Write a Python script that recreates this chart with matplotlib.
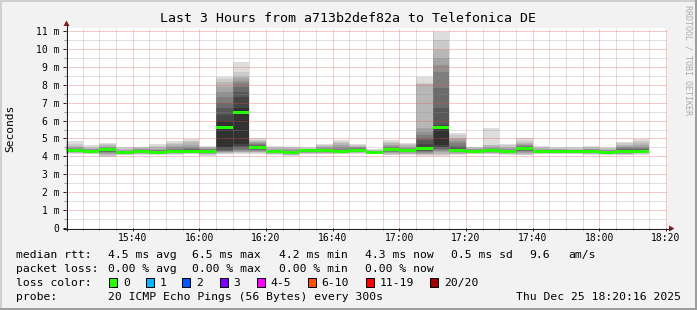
import matplotlib
matplotlib.use("Agg")
import matplotlib.pyplot as plt
from matplotlib.patches import Rectangle, Polygon
import numpy as np

plt.rcParams['font.family'] = ['DejaVu Sans Mono']

# ---------------- data ----------------
title = "Last 3 Hours from a713b2def82a to Telefonica DE"
y_label = "Seconds"
watermark = "RRDTOOL / TOBI OETIKER"

slot_start = ["15:20", "15:25", "15:30", "15:35", "15:40", "15:45", "15:50", "15:55",
              "16:00", "16:05", "16:10", "16:15", "16:20", "16:25", "16:30", "16:35",
              "16:40", "16:45", "16:50", "16:55", "17:00", "17:05", "17:10", "17:15",
              "17:20", "17:25", "17:30", "17:35", "17:40", "17:45", "17:50", "17:55",
              "18:00", "18:05", "18:10"]

median_ms = [4.32, 4.28, 4.36, 4.20, 4.30, 4.21, 4.28, 4.30, 4.30, 5.63,
             6.46, 4.50, 4.25, 4.21, 4.32, 4.32, 4.28, 4.32, 4.23, 4.36,
             4.32, 4.45, 5.64, 4.34, 4.30, 4.32, 4.26, 4.43, 4.25, 4.25,
             4.25, 4.25, 4.23, 4.30, 4.30]

# 20 sorted ping rtts (ms) per 5-minute slot
pings_ms = [
    [4.13, 4.17, 4.20, 4.22, 4.24, 4.26, 4.28, 4.29, 4.30, 4.31, 4.33, 4.35, 4.37, 4.40, 4.43, 4.47, 4.52, 4.58, 4.70, 4.86],
    [4.13, 4.16, 4.19, 4.21, 4.23, 4.24, 4.25, 4.26, 4.27, 4.28, 4.29, 4.30, 4.32, 4.34, 4.36, 4.39, 4.42, 4.47, 4.55, 4.64],
    [3.95, 4.02, 4.08, 4.14, 4.19, 4.23, 4.27, 4.30, 4.32, 4.34, 4.37, 4.39, 4.41, 4.43, 4.46, 4.50, 4.55, 4.62, 4.70, 4.77],
    [4.08, 4.10, 4.12, 4.14, 4.15, 4.16, 4.17, 4.18, 4.19, 4.20, 4.21, 4.22, 4.24, 4.26, 4.28, 4.31, 4.35, 4.40, 4.45, 4.50],
    [4.10, 4.13, 4.16, 4.18, 4.20, 4.22, 4.24, 4.26, 4.28, 4.29, 4.31, 4.32, 4.34, 4.36, 4.38, 4.40, 4.43, 4.46, 4.50, 4.54],
    [4.10, 4.12, 4.14, 4.15, 4.16, 4.17, 4.18, 4.19, 4.20, 4.21, 4.22, 4.24, 4.27, 4.30, 4.34, 4.38, 4.43, 4.50, 4.60, 4.69],
    [4.10, 4.13, 4.16, 4.18, 4.20, 4.22, 4.24, 4.25, 4.26, 4.27, 4.29, 4.31, 4.34, 4.38, 4.43, 4.50, 4.58, 4.67, 4.77, 4.86],
    [4.13, 4.16, 4.19, 4.21, 4.23, 4.25, 4.26, 4.27, 4.28, 4.29, 4.31, 4.33, 4.36, 4.40, 4.46, 4.55, 4.66, 4.78, 4.88, 4.95],
    [4.02, 4.07, 4.12, 4.16, 4.19, 4.22, 4.24, 4.26, 4.28, 4.29, 4.31, 4.33, 4.35, 4.37, 4.40, 4.43, 4.47, 4.51, 4.55, 4.58],
    [4.13, 4.16, 4.19, 4.22, 4.25, 4.28, 4.32, 4.38, 4.45, 4.55, 6.00, 6.30, 6.70, 7.00, 7.30, 7.60, 7.90, 8.15, 8.32, 8.45],
    [4.15, 4.19, 4.22, 4.26, 4.30, 4.36, 4.42, 4.50, 4.60, 4.70, 6.70, 7.30, 7.60, 7.90, 8.08, 8.20, 8.35, 8.45, 8.73, 9.26],
    [4.13, 4.18, 4.22, 4.26, 4.30, 4.34, 4.38, 4.42, 4.46, 4.49, 4.52, 4.56, 4.60, 4.64, 4.68, 4.73, 4.80, 4.87, 4.94, 5.00],
    [4.10, 4.13, 4.15, 4.17, 4.19, 4.20, 4.21, 4.22, 4.23, 4.24, 4.26, 4.28, 4.30, 4.32, 4.35, 4.38, 4.42, 4.47, 4.52, 4.58],
    [4.02, 4.06, 4.09, 4.12, 4.14, 4.16, 4.18, 4.19, 4.20, 4.21, 4.22, 4.24, 4.26, 4.29, 4.32, 4.36, 4.40, 4.45, 4.50, 4.54],
    [4.13, 4.16, 4.19, 4.21, 4.23, 4.25, 4.27, 4.29, 4.30, 4.31, 4.33, 4.34, 4.35, 4.37, 4.38, 4.40, 4.42, 4.44, 4.47, 4.50],
    [4.13, 4.16, 4.19, 4.21, 4.23, 4.25, 4.27, 4.29, 4.30, 4.31, 4.33, 4.35, 4.37, 4.40, 4.43, 4.47, 4.52, 4.57, 4.63, 4.69],
    [4.13, 4.16, 4.19, 4.21, 4.23, 4.24, 4.25, 4.26, 4.27, 4.28, 4.29, 4.31, 4.34, 4.38, 4.44, 4.52, 4.62, 4.72, 4.83, 4.92],
    [4.13, 4.17, 4.20, 4.22, 4.24, 4.26, 4.28, 4.29, 4.30, 4.31, 4.33, 4.35, 4.38, 4.41, 4.45, 4.50, 4.55, 4.60, 4.65, 4.69],
    [4.13, 4.15, 4.17, 4.18, 4.19, 4.20, 4.21, 4.22, 4.22, 4.23, 4.24, 4.25, 4.26, 4.27, 4.28, 4.30, 4.32, 4.34, 4.37, 4.39],
    [4.05, 4.10, 4.14, 4.18, 4.22, 4.25, 4.28, 4.31, 4.33, 4.35, 4.37, 4.40, 4.43, 4.47, 4.52, 4.58, 4.65, 4.73, 4.83, 4.92],
    [4.08, 4.12, 4.16, 4.19, 4.22, 4.24, 4.26, 4.28, 4.30, 4.31, 4.33, 4.35, 4.37, 4.40, 4.44, 4.49, 4.55, 4.62, 4.70, 4.77],
    [4.04, 4.08, 4.12, 4.16, 4.20, 4.24, 4.28, 4.32, 4.36, 4.40, 4.54, 4.70, 4.92, 5.05, 5.20, 5.38, 5.57, 8.03, 8.10, 8.45],
    [4.02, 4.10, 4.16, 4.22, 4.28, 4.34, 4.40, 4.48, 4.55, 4.64, 5.68, 5.75, 6.69, 7.80, 8.73, 9.10, 9.48, 9.94, 10.50, 10.97],
    [4.08, 4.12, 4.16, 4.20, 4.23, 4.26, 4.28, 4.30, 4.32, 4.33, 4.36, 4.42, 4.50, 4.60, 4.72, 4.85, 4.95, 5.05, 5.18, 5.29],
    [4.12, 4.15, 4.18, 4.20, 4.22, 4.24, 4.26, 4.27, 4.28, 4.29, 4.31, 4.32, 4.33, 4.35, 4.37, 4.39, 4.42, 4.45, 4.50, 4.54],
    [4.13, 4.16, 4.19, 4.21, 4.23, 4.25, 4.27, 4.29, 4.30, 4.31, 4.33, 4.35, 4.37, 4.40, 4.43, 4.48, 4.55, 4.62, 4.66, 5.57],
    [4.08, 4.12, 4.15, 4.17, 4.19, 4.21, 4.22, 4.23, 4.24, 4.25, 4.27, 4.29, 4.31, 4.34, 4.37, 4.41, 4.46, 4.53, 4.61, 4.69],
    [4.05, 4.10, 4.15, 4.20, 4.24, 4.28, 4.31, 4.34, 4.37, 4.40, 4.42, 4.45, 4.48, 4.52, 4.56, 4.61, 4.67, 4.76, 4.88, 5.01],
    [4.13, 4.15, 4.17, 4.19, 4.20, 4.21, 4.22, 4.23, 4.24, 4.25, 4.26, 4.27, 4.29, 4.31, 4.34, 4.37, 4.41, 4.46, 4.53, 4.60],
    [4.13, 4.15, 4.17, 4.19, 4.20, 4.21, 4.22, 4.23, 4.24, 4.25, 4.26, 4.27, 4.29, 4.31, 4.33, 4.36, 4.39, 4.43, 4.49, 4.54],
    [4.13, 4.15, 4.17, 4.18, 4.20, 4.21, 4.22, 4.23, 4.24, 4.25, 4.26, 4.27, 4.28, 4.30, 4.32, 4.34, 4.37, 4.41, 4.45, 4.50],
    [4.10, 4.13, 4.16, 4.18, 4.20, 4.21, 4.22, 4.23, 4.24, 4.25, 4.26, 4.28, 4.30, 4.32, 4.35, 4.39, 4.43, 4.48, 4.54, 4.60],
    [4.10, 4.13, 4.15, 4.17, 4.18, 4.19, 4.20, 4.21, 4.22, 4.23, 4.24, 4.25, 4.27, 4.29, 4.31, 4.34, 4.37, 4.41, 4.46, 4.50],
    [4.05, 4.09, 4.13, 4.16, 4.19, 4.21, 4.23, 4.25, 4.27, 4.28, 4.31, 4.33, 4.36, 4.40, 4.45, 4.51, 4.58, 4.65, 4.72, 4.79],
    [4.10, 4.14, 4.17, 4.20, 4.22, 4.24, 4.26, 4.27, 4.28, 4.29, 4.31, 4.33, 4.36, 4.40, 4.46, 4.54, 4.64, 4.75, 4.86, 4.97],
]

xtick_labels = ["15:40", "16:00", "16:20", "16:40", "17:00", "17:20", "17:40", "18:00", "18:20"]
ytick_labels = ["0", "1 m", "2 m", "3 m", "4 m", "5 m", "6 m", "7 m", "8 m", "9 m", "10 m", "11 m"]

rtt_head = "median rtt:"
rtt_stats = ["4.5 ms avg", "6.5 ms max", "4.2 ms min", "4.3 ms now", "0.5 ms sd", "9.6", "am/s"]
loss_head = "packet loss:"
loss_stats = ["0.00 % avg", "0.00 % max", "0.00 % min", "0.00 % now"]
color_head = "loss color:"
loss_labels = ["0", "1", "2", "3", "4-5", "6-10", "11-19", "20/20"]
loss_colors = ["#26ff00", "#00b8ff", "#0059ff", "#7e00ff", "#ff00ff", "#ff5500", "#ff0000", "#a10000"]
probe_head = "probe:"
probe_text = "20 ICMP Echo Pings (56 Bytes) every 300s"
date_text = "Thu Dec 25 18:20:16 2025"

# ---------------- layout ----------------
W, H, DPI = 697, 310, 100
X0, X1, YB, YT = 66, 667, 228, 28      # canvas in pixels
PX_PER_MIN = 600 / 180.0
T_START = "15:20"

def fx(px):
    return px / W

def fy(py):
    return 1 - py / H

def minutes(s):
    h, m = s.split(":")
    h0, m0 = T_START.split(":")
    return (int(h) * 60 + int(m)) - (int(h0) * 60 + int(m0))

fig = plt.figure(figsize=(W / DPI, H / DPI), dpi=DPI)
fig.patch.set_facecolor("#f2f2f2")

ax = fig.add_axes([fx(X0), fy(YB), (X1 - X0) / W, (YB - YT) / H])
ax.set_facecolor("white")
ax.set_xlim(0, (X1 - X0) / PX_PER_MIN)
ymax = 11.17
ax.set_ylim(0, ymax)
for s in ax.spines.values():
    s.set_visible(False)

xs = np.array([minutes(s) for s in slot_start], dtype=float)
step = 5
P = np.array(pings_ms)

# smoke bands (outer light -> inner dark)
half = 10
for b in range(half):
    lo = P[:, b]
    hi = P[:, 19 - b]
    g = int(190 / half * (half - (b + 1))) + 50
    ax.bar(xs, hi - lo, bottom=lo, width=step, align="edge",
           color=(g / 255.0,) * 3, linewidth=0, antialiased=False, zorder=1)

# median band (3 px high)
sw = ymax / (YB - YT) * 3
med = np.array(median_ms)
ax.bar(xs, sw, bottom=med - sw / 2, width=step, align="edge",
       color=loss_colors[0], linewidth=0, antialiased=True, zorder=3)

# ticks & grid
xt = [minutes(s) for s in xtick_labels]
ax.set_xticks(xt, xtick_labels)
ax.set_xticks(np.arange(0, 181, 5), minor=True)
ax.set_yticks(range(len(ytick_labels)), ytick_labels)
ax.set_yticks(np.arange(0.5, 11.0, 1.0), minor=True)
ax.set_axisbelow(False)
ax.grid(which="major", color="#de4f4f", alpha=0.6, linestyle=(0, (1, 1)), linewidth=0.72)
ax.grid(which="minor", color="#8f8f8f", alpha=0.55, linestyle=(0, (1, 1)), linewidth=0.72)
ax.tick_params(which="major", direction="out", length=2.2, width=0.72, color="#1f1f1f",
               labelsize=7, pad=1.5, labelcolor="black")
ax.tick_params(which="minor", direction="out", length=1.4, width=0.72, color="#8f8f8f")
ax.tick_params(axis="y", which="major", pad=2.5)

# overlay in pixel coordinates for frame, axes arrows and legend
ov = fig.add_axes([0, 0, 1, 1], zorder=10)
ov.set_xlim(0, W)
ov.set_ylim(H, 0)
ov.axis("off")
ov.patch.set_alpha(0)

# 3D border
ov.plot([0, W], [1, 1], color="#cfcfcf", lw=1.44, solid_capstyle="butt")
ov.plot([1, 1], [0, H], color="#cfcfcf", lw=1.44, solid_capstyle="butt")
ov.plot([0, W], [H - 1, H - 1], color="#9e9e9e", lw=1.44, solid_capstyle="butt")
ov.plot([W - 1, W - 1], [0, H], color="#9e9e9e", lw=1.44, solid_capstyle="butt")

# axis lines with arrows
axis_col = "#1f1f1f"
arrow_col = "#801f1f"
ov.plot([X0 + 0.5, X0 + 0.5], [YB + 3, YT - 4], color=axis_col, lw=0.72, solid_capstyle="butt")
ov.plot([X0 - 3, X1 + 4], [YB + 0.5, YB + 0.5], color=axis_col, lw=0.72, solid_capstyle="butt")
ov.add_patch(Polygon([[X0 - 2.5, YT - 2], [X0 + 3.5, YT - 2], [X0 + 0.5, YT - 7.5]],
                     closed=True, color=arrow_col, lw=0))
ov.add_patch(Polygon([[X1 + 2, YB - 2.5], [X1 + 2, YB + 3.5], [X1 + 7.5, YB + 0.5]],
                     closed=True, color=arrow_col, lw=0))

# texts
ov.text(W / 2, 19, title, ha="center", va="center", fontsize=9.5, color="black")
ov.text(10, (YT + YB) / 2, y_label, rotation=90, ha="center", va="center", fontsize=8.1)
ov.text(688, 5, watermark, rotation=270, ha="center", va="top", fontsize=6, color="#ababab")

LF = 8.2
ov.text(16.4, 258, rtt_head, fontsize=LF, va="baseline")
for s, x in zip(rtt_stats, [107.6, 192.4, 279, 365, 451, 529, 568]):
    ov.text(x, 258, s, fontsize=LF, va="baseline")
ov.text(16.4, 272, loss_head, fontsize=LF, va="baseline")
for s, x in zip(loss_stats, [107.6, 192.4, 279, 365]):
    ov.text(x, 272, s, fontsize=LF, va="baseline")
ov.text(16.4, 286, color_head, fontsize=LF, va="baseline")
box_x = [109, 145.5, 182, 219.5, 256.5, 307.5, 365.5, 430]
for lab, col, bx in zip(loss_labels, loss_colors, box_x):
    ov.add_patch(Rectangle((bx, 277.5), 8, 9, facecolor=col, edgecolor="black", lw=0.72))
    ov.text(bx + 14, 286, lab, fontsize=LF, va="baseline")
ov.text(16.4, 300, probe_head, fontsize=LF, va="baseline")
ov.text(107.6, 300, probe_text, fontsize=LF, va="baseline")
ov.text(681, 300, date_text, fontsize=LF, va="baseline", ha="right")

fig.savefig("out.png", dpi=DPI, facecolor=fig.get_facecolor())
